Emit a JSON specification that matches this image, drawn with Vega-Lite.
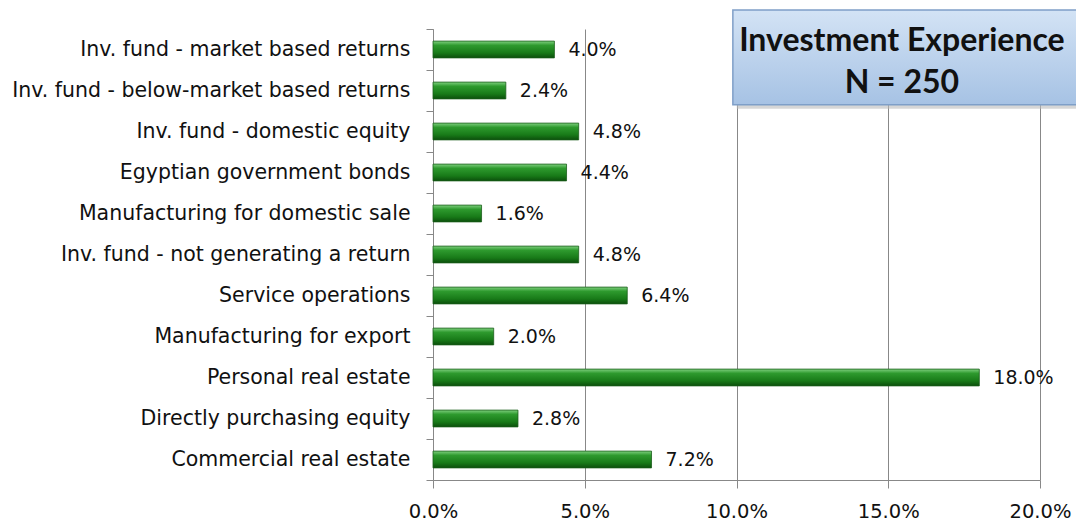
{
  "$schema": "https://vega.github.io/schema/vega-lite/v6.json",
  "autosize": "none",
  "width": 607,
  "height": 451,
  "padding": {"left": 433, "top": 29, "right": 36, "bottom": 43},
  "background": "white",
  "config": {
    "view": {"stroke": null},
    "font": "DejaVu Sans"
  },
  "datasets": {
    "bars": [
      {"category": "Inv. fund - market based returns", "share": 0.040},
      {"category": "Inv. fund - below-market based returns", "share": 0.024},
      {"category": "Inv. fund - domestic equity", "share": 0.048},
      {"category": "Egyptian government bonds", "share": 0.044},
      {"category": "Manufacturing for domestic sale", "share": 0.016},
      {"category": "Inv. fund - not generating a return", "share": 0.048},
      {"category": "Service operations", "share": 0.064},
      {"category": "Manufacturing for export", "share": 0.020},
      {"category": "Personal real estate", "share": 0.180},
      {"category": "Directly purchasing equity", "share": 0.028},
      {"category": "Commercial real estate", "share": 0.072}
    ],
    "shadow": [
      {"x1": 0.1001, "x2": 0.218, "y1": 0.823, "y2": 1.033}
    ],
    "box": [
      {"x1": 0.0988, "x2": 0.216, "y1": 0.832, "y2": 1.042}
    ],
    "boxText": [
      {"label": "Investment Experience", "x": 0.1545, "y": 0.974},
      {"label": "N = 250", "x": 0.1545, "y": 0.880}
    ]
  },
  "layer": [
    {
      "data": {"name": "bars"},
      "layer": [
        {
          "mark": {
            "type": "bar",
            "height": {"band": 0.41},
            "stroke": "#1b5e1b",
            "strokeWidth": 0.8,
            "color": {
              "gradient": "linear",
              "x1": 0, "y1": 0, "x2": 0, "y2": 1,
              "stops": [
                {"offset": 0, "color": "#7fd07f"},
                {"offset": 0.25, "color": "#2e9a2e"},
                {"offset": 0.7, "color": "#187a18"},
                {"offset": 1, "color": "#0c4f0c"}
              ]
            }
          },
          "encoding": {
            "y": {
              "field": "category", "type": "nominal", "sort": null,
              "scale": {"paddingInner": 0, "paddingOuter": 0},
              "axis": {
                "title": null,
                "labelFont": "DejaVu Sans",
                "labelFontSize": 20.5,
                "labelColor": "#111",
                "labelPadding": 16,
                "labelLimit": 500,
                "tickSize": 7,
                "tickBand": "extent",
                "tickColor": "#888",
                "domainColor": "#888",
                "grid": false
              }
            },
            "x": {
              "field": "share", "type": "quantitative",
              "scale": {"domain": [0, 0.2], "nice": false},
              "axis": {
                "title": null,
                "format": ".1%",
                "values": [0, 0.05, 0.1, 0.15, 0.2],
                "labelFont": "DejaVu Sans",
                "labelFontSize": 19.5,
                "labelFlush": false,
                "labelColor": "#111",
                "labelPadding": 14,
                "tickSize": 8,
                "tickColor": "#888",
                "domainColor": "#888",
                "grid": true,
                "gridColor": "#888",
                "gridWidth": 1
              }
            }
          }
        },
        {
          "mark": {"type": "text", "align": "left", "dx": 14, "fontSize": 19, "font": "DejaVu Sans", "color": "#111"},
          "encoding": {
            "y": {"field": "category", "type": "nominal", "sort": null},
            "x": {"field": "share", "type": "quantitative"},
            "text": {"field": "share", "type": "quantitative", "format": ".1%"}
          }
        }
      ]
    },
    {
      "data": {"name": "shadow"},
      "mark": {"type": "rect", "color": "#bbbbbb", "opacity": 0.6},
      "encoding": {
        "x": {"field": "x1", "type": "quantitative"},
        "x2": {"field": "x2"},
        "y": {"field": "y1", "type": "quantitative", "scale": {"domain": [0, 1], "nice": false, "zero": false}, "axis": null},
        "y2": {"field": "y2"}
      }
    },
    {
      "data": {"name": "box"},
      "mark": {
        "type": "rect",
        "stroke": "#7f9fc8",
        "strokeWidth": 1.5,
        "color": {
          "gradient": "linear",
          "x1": 0, "y1": 0, "x2": 0, "y2": 1,
          "stops": [
            {"offset": 0, "color": "#d3e3f5"},
            {"offset": 1, "color": "#a6c2e4"}
          ]
        }
      },
      "encoding": {
        "x": {"field": "x1", "type": "quantitative"},
        "x2": {"field": "x2"},
        "y": {"field": "y1", "type": "quantitative", "scale": {"domain": [0, 1], "nice": false, "zero": false}, "axis": null},
        "y2": {"field": "y2"}
      }
    },
    {
      "data": {"name": "boxText"},
      "mark": {"type": "text", "align": "center", "baseline": "middle", "font": "Lato", "fontWeight": "bold", "fontSize": 32, "color": "#111"},
      "encoding": {
        "x": {"field": "x", "type": "quantitative"},
        "y": {"field": "y", "type": "quantitative", "scale": {"domain": [0, 1], "nice": false, "zero": false}, "axis": null},
        "text": {"field": "label"}
      }
    }
  ],
  "resolve": {"scale": {"y": "independent"}, "axis": {"y": "independent"}}
}
